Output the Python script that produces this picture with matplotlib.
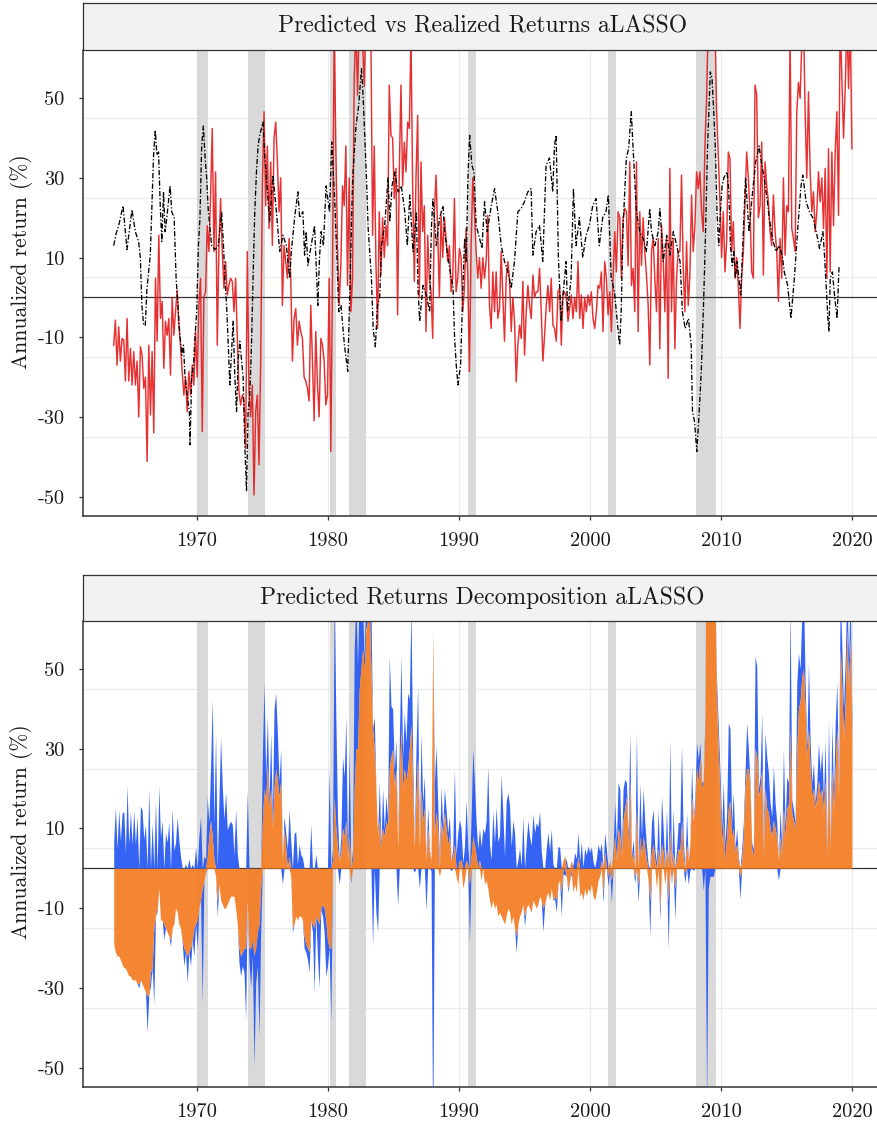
import numpy as np
import matplotlib
matplotlib.use("Agg")
import matplotlib.pyplot as plt

plt.rcParams['font.family'] = ['cmr10', 'DejaVu Serif']
plt.rcParams['mathtext.fontset'] = 'cm'
plt.rcParams['axes.unicode_minus'] = False
plt.rcParams['axes.formatter.use_mathtext'] = True

# predicted annualized return (aLASSO), sampled about every 1.5 months
pred_a = [-12, -5.7, -17, -7.4, -16, -10.3, -10.7, -21, -5.3, -21, -12.8, -22, -13.6, -22, -16, -30,
          -12.4, -14.5, -22.8, -20, -41.2, -12, -29.5, -13.6, -34, 4.8, -11, 15.6, -5.3, -1, -17.8, -6,
          -9.5, -5.3, -19.5, 0, -9.5, -3.6, 1.8, -7, -12, -18.6, -24.5, -20, -28.7, -18.6, -24.5, -17,
          -22, -8.6, -20, -2, 4.8, -33.7, 0, 1.4, 18, 11.5, 25.7, 42.4, 11.5, 31.5, -12, 13,
          24.8, 11.5, 2.3, 9, 0.6, 3, 4.8, 4, -3.6, 4.8, -10.3, -23.7, -27, -24.5, -26, -37.9,
          11.5, -23.7, -30, -22, -49.6, -28.7, -24.5, -42, -16, 28, 46.6, 23, 38, 17.3, 34, 13,
          40, 44, 34, 21.5, 30, -2, 13, 9, 4.8, 14.8, 4.8, -16, -5.3, -2.8, -12, -6,
          -8.6, -10.3, -20, -21, -22.8, -26, -2, -16, -31, -8.6, -22, -30, -10.3, -12, -16, -27,
          -24.5, 4.8, -38.7, 4.8, 68, 38, 13, -2, 8, 28, 23, 38, 3, 30, -3.6, 4.8, 55, 68]
pred_b = [50.8, 70, 70, 65, 53, 70, 70, 70, 66, 15.6, 38, 9, -7.8, 21.5, 5.6, 20,
          10, 18, 13, 53.3, 40.7, 40, 24.8, 32.4, -4.4, 31.5, 53.3, 28, 39, 31.5, 44, 42.4,
          66, 27.3, 4, 30, 45.7, 0, 34, 16.5, 23, -8.6, 15.6, 4.8, 1.4, -10.3, 21.5, 30.7,
          16.5, 0, 20.6, 10, 20, 14.8, 9, 13, 1.4, 4.8, 24.8, 1.4, 4.8, 12.3, 10, -3.6,
          2.3, 17.3, 5.6, -18.6, 13, 30, 21.5, 11.5, 4.8, 10, 2.3, 10, 4.8, 9, 20.6, -2,
          -7.8, 6.4, -3.6, 6.4, -5.3, -2.8, 11.5, 0.6, -11, 4.8, 9, 4.8, -8.6, 0, -6, -21.2,
          -12, -7, -10.3, 4, -14.5, -3.6, 3, -2, -5.3, 5.6, 0, 1.4, 1.4, 7.3, -3.6, -16,
          -9.5, -2, 3, -3.6, 4.8, -7, -7.8, -11, 1.4, 2.3, -12, 0.6, 1.4, 0, -6, -2.8,
          0.6, -5.3, 0, -3.6, 9, -5.3, 0.6, -7.8, 0, -3.6, 0.6, -2, 1.4, -5.3, -7.8, -3.6,
          3, 2.3, 6.4, -8.6, 9, 4.8, -4.4, 1.4, -8.6, 4.8, 16.5, 6.4]
pred_c = [21.5, 20, 4.8, 20, 22.3, 21.5, 8, 34, 3, 7.3, -3.6, 34, -8.6, 21.5, 8, 20,
          11.5, 5.6, -2, -17, 11.5, 14.8, 4.8, -3.6, 14.8, -12.9, 18, 10, -3.6, 14.8, -20.3, 32.4,
          -3.6, 14.8, -12.9, 4.8, 11.5, 11.5, 30.7, 7.3, -3.6, 14, -2, 5.6, 25.7, 11.5, 18, 31.5,
          27.3, 31.5, 21.5, 16.5, 38, 49.9, 70, 70, 68, 70, 70, 46.6, 35.7, 24, 10, 21.5,
          6.4, 14, 36.5, 34.9, 11.5, 19, 4.8, 10, 3, -7.8, 4.8, 11.5, 24, 36.5, 30, 21.5,
          6.4, 4.8, 53.3, 50.8, 20, 23, 39, 5.6, 34, 28, 24, 16.5, 13, 25.7, 16.5, 11.5,
          -1, 14.8, 4.8, 30, 10.6, 23, 21.5, 66, 17.3, 14.8, 11.5, 46.6, 54, 50, 64, 70,
          46.6, 30, 51.6, 31.5, 21.5, 26.5, 16.5, 21.5, 31.5, 24, 30, 17.3, 32.4, 4.8, 37.3, 6.4,
          36.5, 18, 36.5, 46.6, 20.6, 70, 55, 40, 52.4, 70, 52.4, 70, 37.3]

# valuation component of the prediction (orange area), same dates
valuation = [-19, -21, -22, -22, -23, -24, -25, -25, -26, -27, -27, -28, -28, -28, -29, -29,
             -28, -29, -30, -31, -32, -32, -26, -25, -15, -12, -10, -5, -13, -13, -14, -15,
             -16, -17, -18, -15, -14, -10, -11, -14, -15, -18, -20, -21, -22, -21, -20, -18,
             -15, -14, -13, -10, -8, -5, -3, -1, 3, 8, 12, 8, 2, -2, -8, -4,
             -8, -9, -10, -10, -9, -8, -7, -7, -7, -10, -14, -20, -22, -21, -20, -20,
             -8, -20, -20, -18, -22, -20, -16, -14, -5, 12, 20, 17, 26, 15, 20, 10,
             20, 25, 22, 18, 22, 2, 10, 5, 0, 3, -2, -15, -14, -12, -13, -12,
             -12, -13, -17, -19, -20, -21, -13, -14, -15, -12, -13, -14, -10, -9, -10, -13,
             -18, -20, -20, 2, 18, 10, 5, 2, 4, 10, 8, 12, 2, 8, -3, 2,
             20, 30, 30, 45, 50, 55, 50, 60, 62, 65, 50, 35, 30, 20, 8, 12,
             5, 10, 8, 12, 10, 25, 28, 30, 20, 25, 5, 22, 35, 20, 25, 22,
             25, 30, 36, 20, 5, 18, 28, 5, 20, 12, 15, 2, 10, 4, 2, 60,
             8, 14, 10, -2, 12, 8, 14, 10, 6, 8, 2, 3, 6, -2, -4, 2,
             2, -5, -3, 2, 1, -4, 3, 8, 6, 3, 0, 2, -3, 0, -4, -3,
             -5, -8, -10, -8, -10, -9, -12, -11, -12, -13, -14, -12, -10, -11, -14, -12,
             -15, -17, -14, -12, -11, -9, -12, -10, -9, -10, -11, -8, -9, -10, -9, -7,
             -8, -10, -9, -7, -6, -8, -5, -8, -7, -8, -4, -3, -6, 2, 3, -2,
             -5, -3, 2, -6, -4, -6, 3, -7, -6, -8, -5, -7, -5, -6, -4, -7,
             -8, -6, -3, -2, 2, -6, 4, 0, -2, 2, -3, 3, 8, 2, 10, 8,
             3, 12, 15, 18, 5, 22, 2, 4, -2, 15, -4, 8, 3, 8, 5, 2,
             -3, -8, 4, 6, 2, -5, 5, -10, 6, 4, -4, 5, -8, 10, -3, 4,
             -5, 2, 5, 4, 12, 3, -1, 6, 2, 6, 18, 12, 15, 25, 22, 28,
             20, 22, 35, 110, 75, 72, 70, 72, 70, 42, 30, 18, 6, 12, 2, 8,
             15, 17, 8, 10, 4, 6, 2, -2, 2, 8, 20, 25, 25, 20, 5, 3,
             30, 28, 18, 20, 25, 3, 20, 15, 14, 10, 8, 12, 10, 8, 2, 8,
             3, 15, 8, 15, 16, 35, 14, 12, 10, 30, 40, 42, 48, 50, 40, 28,
             35, 25, 18, 20, 15, 18, 22, 18, 20, 14, 22, 3, 25, 5, 25, 14,
             25, 35, 18, 55, 45, 32, 42, 60, 45, 58, 32]

# realized annualized return (black dash-dot)
real_t = [1963.67, 1963.85, 1964.05, 1964.38, 1964.68, 1965.06, 1965.32, 1965.57, 1965.70, 1965.82,
          1965.95, 1966.08, 1966.20, 1966.46, 1966.71, 1966.84, 1966.96, 1967.09, 1967.22, 1967.34,
          1967.47, 1967.59, 1967.72, 1967.97, 1968.10, 1968.28, 1968.43, 1968.53, 1968.68, 1968.86,
          1968.99, 1969.11, 1969.29, 1969.44, 1969.49, 1969.62, 1969.75, 1969.87, 1970.00, 1970.13,
          1970.25, 1970.38, 1970.51, 1970.63, 1970.76, 1970.89, 1971.14, 1971.39, 1971.65, 1971.90,
          1972.03, 1972.15, 1972.28, 1972.41, 1972.53, 1972.66, 1972.78, 1972.91, 1973.04, 1973.16,
          1973.29, 1973.54, 1973.67, 1973.80, 1973.92, 1974.05, 1974.18, 1974.30, 1974.43, 1974.56,
          1974.68, 1974.81, 1975.06, 1975.19, 1975.32, 1975.57, 1975.82, 1976.08, 1976.33, 1976.58,
          1976.84, 1977.09, 1977.22, 1977.47, 1977.72, 1977.85, 1978.10, 1978.23, 1978.35, 1978.48,
          1978.73, 1978.99, 1979.24, 1979.37, 1979.49, 1979.67, 1979.87, 1980.13, 1980.30, 1980.51,
          1980.68, 1980.84, 1981.01, 1981.27, 1981.52, 1981.90, 1982.15, 1982.35, 1982.57, 1982.69,
          1982.95, 1983.08, 1983.33, 1983.46, 1983.63, 1983.79, 1983.96, 1984.09, 1984.34, 1984.60,
          1984.73, 1984.90, 1985.11, 1985.36, 1985.61, 1985.87, 1986.07, 1986.25, 1986.50, 1986.76,
          1986.88, 1987.01, 1987.26, 1987.52, 1987.77, 1987.90, 1988.02, 1988.28, 1988.53, 1988.79,
          1988.91, 1989.17, 1989.42, 1989.55, 1989.67, 1989.80, 1989.93, 1990.13, 1990.31, 1990.44,
          1990.56, 1990.69, 1990.82, 1990.99, 1991.15, 1991.32, 1991.58, 1991.76, 1991.96, 1992.16,
          1992.47, 1992.72, 1992.97, 1993.23, 1993.48, 1993.74, 1993.99, 1994.24, 1994.50, 1994.75,
          1995.00, 1995.26, 1995.51, 1995.64, 1995.89, 1996.15, 1996.40, 1996.65, 1996.91, 1997.16,
          1997.29, 1997.42, 1997.59, 1997.80, 1997.92, 1998.18, 1998.30, 1998.56, 1998.74, 1998.94,
          1999.19, 1999.45, 1999.70, 1999.95, 2000.21, 2000.46, 2000.71, 2000.97, 2001.22, 2001.40,
          2001.62, 2001.87, 2002.13, 2002.26, 2002.38, 2002.51, 2002.64, 2002.77, 2002.95, 2003.15,
          2003.28, 2003.41, 2003.54, 2003.67, 2003.79, 2004.05, 2004.31, 2004.56, 2004.69, 2004.95,
          2005.21, 2005.33, 2005.46, 2005.59, 2005.85, 2006.10, 2006.36, 2006.62, 2006.87, 2007.05,
          2007.26, 2007.51, 2007.72, 2007.82, 2007.97, 2008.15, 2008.33, 2008.49, 2008.67, 2008.79,
          2008.97, 2009.18, 2009.31, 2009.44, 2009.56, 2009.69, 2009.82, 2009.95, 2010.08, 2010.21,
          2010.46, 2010.59, 2010.72, 2010.85, 2010.97, 2011.10, 2011.23, 2011.49, 2011.62, 2011.74,
          2011.87, 2012.13, 2012.38, 2012.64, 2012.90, 2013.03, 2013.28, 2013.54, 2013.67, 2013.92,
          2014.18, 2014.44, 2014.69, 2014.82, 2015.08, 2015.33, 2015.59, 2015.85, 2016.10, 2016.23,
          2016.49, 2016.74, 2017.00, 2017.26, 2017.51, 2017.77, 2017.90, 2018.15, 2018.23, 2018.33,
          2018.49, 2018.67, 2018.85, 2019.00]
real_r = [13, 16, 18, 23, 12, 22, 16.5, 14, 10, -2,
          -7, -7, 2, 10.6, 35.7, 42, 35.7, 36.5, 23, 14,
          26.5, 16.5, 20, 28, 21.5, 20, 4.8, 0, -7.8, -14.5,
          -12, -20, -25, -28.7, -37, -20, -17, -10, -3.6, 13,
          20, 38, 43, 35.7, 30, 21.5, 13, 12, 13, 21.5,
          14, 4.8, -2, -12, -22, -13.6, -6, -20, -28.7, -16,
          -11, -20, -37, -48.7, -28.7, -24.5, -12, 4.8, 21.5, 31.5,
          38, 40.7, 44, 35.7, 30, 19, 30.7, 21.5, 11.5, 15.6,
          13, 4.8, 11.5, 20, 26.5, 20, 21.5, 10.6, 16.5, 8,
          13, 18, -2, 10, 16.5, 13, 28, 21.5, 39, 25.7,
          11.5, -3.6, -2, -12, -18.6, 30, 43, 48, 57.4, 50.8,
          30, 17.3, 4.8, -7.8, -12.4, -2, 0, 13, 18, 30,
          19, 28, 31.5, 26.5, 28, 21.5, 13, 25.7, 11.5, 21.5,
          2.3, -6, 3, 0.6, -3.6, 17.3, 24.8, 13, 20, 23,
          16.5, 10, 4.8, 3, -10, -17, -22, -17, 3, 14.8,
          9, 30, 40.7, 33.2, 31.5, 18, 14.8, 12.3, 24, 16.5,
          23, 27.3, 21.5, 13, 9, 6.4, 2.3, 9, 21.5, 22.3,
          24, 26.5, 27.3, 10.6, 16.5, 18, 9, 33.2, 35, 26.5,
          38, 40.7, 10, -6, 0, 9, -3.6, 4.8, 27.3, 13,
          20, 10, 15.6, 18, 23, 24.8, 13, 20, 21.5, 25.7,
          4.8, 1.4, -7.8, -12, -3.6, 16.5, 25.7, 34.9, 37.4, 46.6,
          38, 30, 21.5, 19, 16.5, 14.8, 11.5, 22.3, 16.5, 13,
          16.5, 22.3, 16.5, 9, 15.6, 10.6, 16.5, 13, 9, -3.6,
          -7.8, -5.3, -12, -28.7, -31, -38.7, -28.7, -18.6, -1, 13,
          38, 56.6, 55, 46.6, 38, 21.5, 13, 21.5, 28, 30,
          31.5, 26.5, 13, 8, 11.5, 4.8, 9, 0.6, 10, 20,
          30, 16.5, 25.7, 34, 38, 34.9, 30, 24, 20, 14.8,
          11.5, 13, 10, 6.4, 3, -5.3, 4.8, 17.3, 28, 30.7,
          24, 21.5, 20, 16.5, 12.3, 16.5, 10, -5.3, -8.6, 4.8,
          6.4, 0, -5.3, 8]

recessions = [(1970.0, 1970.9), (1973.95, 1975.22), (1980.15, 1980.6), (1981.65, 1982.93),
              (1990.7, 1991.3), (2001.4, 2001.98), (2008.12, 2009.65)]

year_ticks = [1970, 1980, 1990, 2000, 2010, 2020]
ret_ticks = [-50, -30, -10, 10, 30, 50]
ret_grid = [-55, -35, -15, 5, 25, 45]

pred = np.array(pred_a + pred_b + pred_c, dtype=float)
dates = np.linspace(1963.67, 2019.98, len(pred))
val = np.array(valuation, dtype=float)
other = pred - val

W, H = 877, 1128
fig = plt.figure(figsize=(W / 100, H / 100), dpi=100)


def px_axes(x0, y0, x1, y1):
    return fig.add_axes([x0 / W, 1 - y1 / H, (x1 - x0) / W, (y1 - y0) / H])


def strip(box, title):
    s = px_axes(*box)
    s.set_facecolor('#f2f2f2')
    s.set_xticks([])
    s.set_yticks([])
    for sp in s.spines.values():
        sp.set_color('#333333')
        sp.set_linewidth(0.9)
    s.text(0.5, 0.5, title, ha='center', va='center', fontsize=17,
           color='#1a1a1a', transform=s.transAxes)


def base(ax, label_y):
    ax.set_xlim(1961.35, 2022.2)
    ax.set_ylim(-54.8, 62.1)
    for x in year_ticks:
        ax.axvline(x, color='#ebebeb', lw=0.9, zorder=0)
    for y in ret_grid:
        ax.axhline(y, color='#ebebeb', lw=0.9, zorder=0)
    for a, b in recessions:
        ax.axvspan(a, b, color='#d9d9d9', lw=0, zorder=1)
    ax.set_xticks(year_ticks)
    ax.set_xticklabels([str(y) for y in year_ticks])
    ax.set_yticks(ret_ticks)
    ax.set_yticklabels([str(v) for v in ret_ticks])
    ax.tick_params(labelsize=14.7, length=3, width=0.9, color='#333333',
                   labelcolor='#1a1a1a')
    ax.tick_params(axis='x', pad=8.5)
    ax.tick_params(axis='y', pad=10.5)
    for k in ['top', 'right']:
        ax.spines[k].set_visible(False)
    for k in ['left', 'bottom']:
        ax.spines[k].set_color('#333333')
        ax.spines[k].set_linewidth(1.1)
    fig.text(22 / W, 1 - label_y / H, 'Annualized return (%)', rotation=90,
             ha='center', va='center', fontsize=15.5, color='#1a1a1a')


# top panel
ax1 = px_axes(83.3, 50, 881, 515.7)
base(ax1, 262)
ax1.axhline(0, color='#333333', lw=0.9, zorder=2)
ax1.plot(dates, pred, color='#e41a1c', lw=1.05, alpha=0.9, zorder=3)
ax1.plot(real_t, real_r, color='black', lw=0.95, dashes=(4, 1.5, 1, 1.5), zorder=4)
strip((83.3, 3.3, 881, 50), 'Predicted vs Realized Returns aLASSO')

# bottom panel: stacked components, positives up and negatives down
ax2 = px_axes(83.3, 620.7, 881, 1086.7)
base(ax2, 832)
ax2.axhline(0, color='#333333', lw=0.9, zorder=2)
v_pos = np.clip(val, 0, None)
v_neg = np.clip(val, None, 0)
o_pos = np.clip(other, 0, None)
o_neg = np.clip(other, None, 0)
blue = '#2a5cf5'
orange = '#f47b20'
ax2.fill_between(dates, v_pos, v_pos + o_pos, color=blue, lw=0, alpha=0.95, zorder=3)
ax2.fill_between(dates, v_neg, v_neg + o_neg, color=blue, lw=0, alpha=0.95, zorder=3)
ax2.fill_between(dates, 0, v_pos, color=orange, lw=0, alpha=0.92, zorder=3)
ax2.fill_between(dates, 0, v_neg, color=orange, lw=0, alpha=0.92, zorder=3)
strip((83.3, 575, 881, 620.7), 'Predicted Returns Decomposition aLASSO')

fig.savefig('out.png', dpi=100)
